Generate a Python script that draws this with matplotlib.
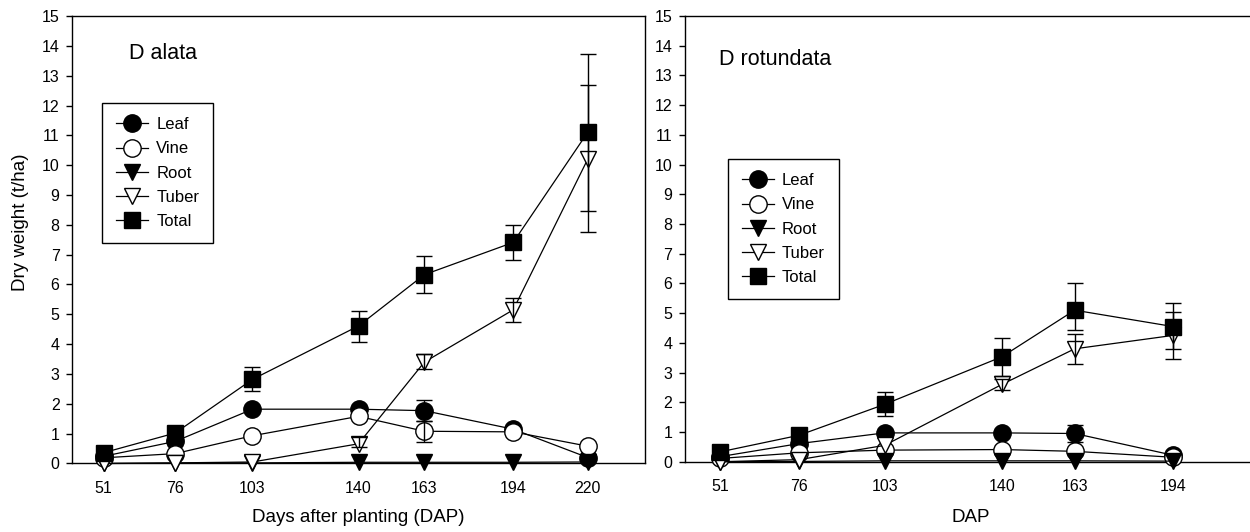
import matplotlib
matplotlib.use('Agg')
import matplotlib.pyplot as plt
import numpy as np

plt.rcParams['font.family'] = ['Liberation Sans', 'DejaVu Sans']

# D alata
days_a = [51, 76, 103, 140, 163, 194, 220]
leaf_a = [0.24, 0.74, 1.82, 1.82, 1.77, 1.15, 0.20]
vine_a = [0.19, 0.33, 0.93, 1.58, 1.08, 1.06, 0.58]
root_a = [0.0, 0.01, 0.02, 0.04, 0.04, 0.04, 0.05]
tuber_a = [0.0, 0.02, 0.05, 0.66, 3.40, 5.15, 10.20]
total_a = [0.36, 1.02, 2.82, 4.61, 6.33, 7.41, 11.10]
total_a_lo = [0, 0, 0.39, 0.53, 0.62, 0.59, 3.35]
total_a_hi = [0, 0, 0.42, 0.49, 0.63, 0.57, 2.63]
tuber_a_lo = [0, 0, 0, 0.10, 0.22, 0.40, 1.73]
tuber_a_hi = [0, 0, 0, 0.24, 0.28, 0.40, 2.50]
leaf_a_err = [0, 0, 0, 0, 0.36, 0, 0]
vine_a_err = [0, 0, 0, 0, 0.36, 0, 0]

# D rotundata
days_r = [51, 76, 103, 140, 163, 194]
leaf_r = [0.17, 0.61, 0.97, 0.97, 0.95, 0.22]
vine_r = [0.11, 0.30, 0.39, 0.41, 0.35, 0.15]
root_r = [0.0, 0.01, 0.03, 0.03, 0.03, 0.02]
tuber_r = [0.0, 0.07, 0.55, 2.60, 3.80, 4.25]
total_r = [0.33, 0.89, 1.93, 3.53, 5.10, 4.55]
total_r_lo = [0, 0, 0.40, 0.65, 0.68, 0.74]
total_r_hi = [0, 0, 0.43, 0.65, 0.92, 0.78]
tuber_r_lo = [0, 0, 0, 0.20, 0.50, 0.80]
tuber_r_hi = [0, 0, 0, 0.20, 0.50, 0.80]
leaf_r_err = [0, 0, 0, 0, 0.30, 0]
vine_r_err = [0, 0, 0, 0, 0, 0]

labels = ['Leaf', 'Vine', 'Root', 'Tuber', 'Total']
styles = [('o', 'black', 12.5), ('o', 'white', 12.5), ('v', 'black', 12),
          ('v', 'white', 12), ('s', 'black', 11)]


def errbars(ax, x, y, lo, hi):
    x = np.array(x); y = np.array(y); lo = np.array(lo); hi = np.array(hi)
    keep = (lo > 0) | (hi > 0)
    if keep.any():
        ax.errorbar(x[keep], y[keep], yerr=[lo[keep], hi[keep]], fmt='none',
                    ecolor='black', elinewidth=1.0, capsize=5.5, capthick=1.0,
                    zorder=5, clip_on=False)


def panel(ax, days, series, errs, name, name_xy, leg_xy):
    for (y, lab, (m, fc, ms)) in zip(series, labels, styles):
        ax.plot(days, y, marker=m, color='black', markerfacecolor=fc,
                markeredgecolor='black', markeredgewidth=1.0, markersize=ms,
                linewidth=0.9, label=lab, clip_on=False, zorder=3)
    for (y, lo, hi) in errs:
        errbars(ax, days, y, lo, hi)
    ax.set_xlim(40, 240)
    ax.set_ylim(0, 15)
    ax.set_xticks(days)
    ax.set_yticks(range(0, 16))
    ax.tick_params(axis='y', direction='out', length=4.5, width=1.0,
                   pad=4.5, labelsize=11.5)
    ax.tick_params(axis='x', length=0, pad=12.5, labelsize=11.5)
    for s in ax.spines.values():
        s.set_linewidth(1.0)
    ax.text(name_xy[0], name_xy[1], name, transform=ax.transAxes,
            fontsize=15.5, va='center', ha='left')
    leg = ax.legend(loc='upper left', bbox_to_anchor=leg_xy, borderaxespad=0,
                    fontsize=12, frameon=True, fancybox=False,
                    edgecolor='black', framealpha=1, handlelength=1.9,
                    handletextpad=0.5, labelspacing=0.55, borderpad=0.85)
    leg.get_frame().set_linewidth(1.0)


fig = plt.figure(figsize=(12.5, 5.32), dpi=100)
ax1 = fig.add_axes([0.0576, 0.1288, 0.4584, 0.8411])
ax2 = fig.add_axes([0.548, 0.1321, 0.5069, 0.8378])

panel(ax1, days_a, [leaf_a, vine_a, root_a, tuber_a, total_a],
      [(total_a, total_a_lo, total_a_hi), (tuber_a, tuber_a_lo, tuber_a_hi),
       (leaf_a, leaf_a_err, leaf_a_err), (vine_a, vine_a_err, vine_a_err)],
      'D alata', (0.0995, 0.917), (0.0524, 0.8056))
panel(ax2, days_r, [leaf_r, vine_r, root_r, tuber_r, total_r],
      [(total_r, total_r_lo, total_r_hi), (tuber_r, tuber_r_lo, tuber_r_hi),
       (leaf_r, leaf_r_err, leaf_r_err), (vine_r, vine_r_err, vine_r_err)],
      'D rotundata', (0.053, 0.9026), (0.0674, 0.679))

fig.text(21 / 1250, 0.583, 'Dry weight (t/ha)', rotation=90, fontsize=13.5,
         ha='center', va='center')
fig.text(358.5 / 1250, 1 - 518 / 532, 'Days after planting (DAP)',
         fontsize=13.5, ha='center', va='center')
fig.text(971 / 1250, 1 - 518 / 532, 'DAP', fontsize=13.5,
         ha='center', va='center')

fig.savefig('out.png', dpi=100)
